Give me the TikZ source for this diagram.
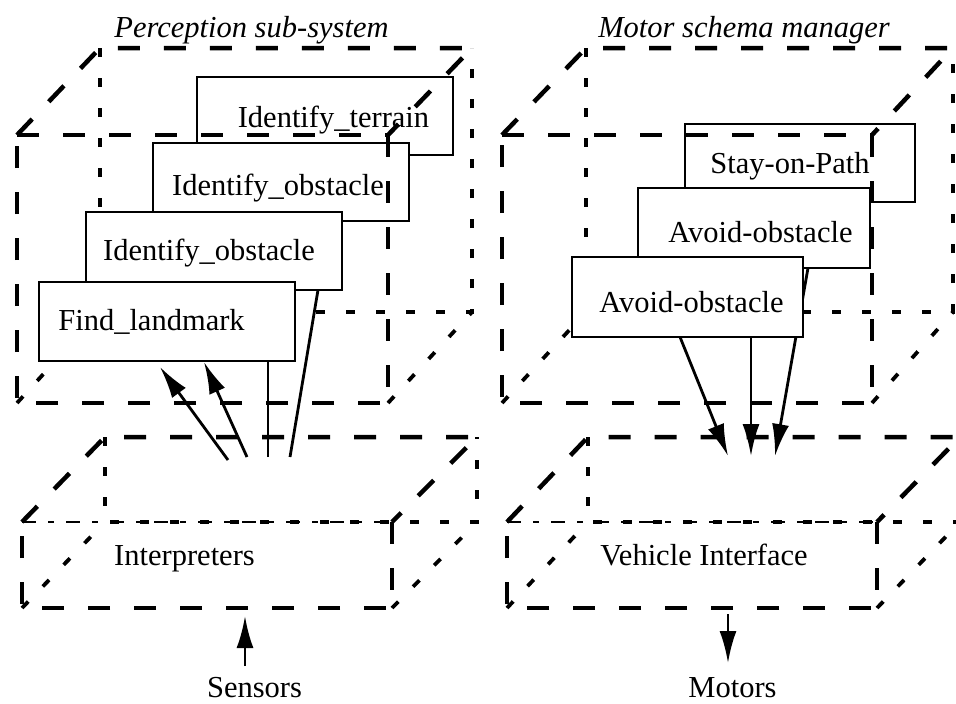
\documentclass[tikz,border=0pt]{standalone}
\usepackage{fontspec}
\setmainfont{Liberation Serif}
\usetikzlibrary{arrows.meta}

% eight corners of a wire-frame box: front (x1,y1,x2,y2), back (x1,y1,x2,y2)
\newcommand{\cornerset}[9]{%
  \coordinate (#1fa) at (#2,#3);
  \coordinate (#1fb) at (#4,#3);
  \coordinate (#1fc) at (#4,#5);
  \coordinate (#1fd) at (#2,#5);
  \coordinate (#1ba) at (#6,#7);
  \coordinate (#1bb) at (#8,#7);
  \coordinate (#1bc) at (#8,#9);
  \coordinate (#1bd) at (#6,#9);
}
% edges that lie behind the box
\newcommand{\backedges}[1]{%
  \draw[hid] (#1ba) -- (#1bd) -- (#1bc) -- (#1bb);
  \draw[hid] (#1fd) -- (#1bd);
  \draw[hid] (#1fc) -- (#1bc);
}
% top face and front face
\newcommand{\frontedges}[1]{%
  \draw[vis] (#1fa) -- (#1ba) -- (#1bb) -- (#1fb);
  \draw[vis] (#1fb) -- (#1fc) -- (#1fd) -- (#1fa);
}
\newcommand{\fronttop}[1]{\draw[vis] (#1fa) -- (#1fb);}
\newcommand{\seamtop}[1]{\draw[seam] (#1fa) -- (#1fb);}

\begin{document}
\begin{tikzpicture}[x=1pt,y=-1pt,
  vis/.style={line width=4.5pt, dash pattern=on 22pt off 24pt},
  hid/.style={line width=3.8pt, dash pattern=on 9pt off 21pt},
  seam/.style={line width=2.8pt, dash pattern=on 14pt off 12pt on 6pt off 12pt},
  schema/.style={draw, line width=1.6pt, fill=white, inner sep=0pt},
  lbl/.style={font=\fontsize{30.5}{33}\selectfont, inner sep=0pt, anchor=base},
  ttl/.style={font=\fontsize{30.5}{33}\selectfont\itshape, inner sep=0pt, anchor=base},
  link/.style={line width=2.8pt},
  arr/.style={line width=2.8pt, -{Latex[length=32pt,width=17pt]}},
]
\clip (0,0) rectangle (956,704);

% frames
\cornerset{P}{17}{135}{388}{403}{100}{48}{472}{312}
\cornerset{M}{502}{135}{872}{403}{586}{48}{953}{312}
\cornerset{I}{22}{522}{392}{608}{105}{437}{477}{522}
\cornerset{V}{507}{522}{877}{608}{588}{437}{960}{522}

\backedges{P}
\backedges{M}
\backedges{I}
\backedges{V}

% ---------------- perception sub-system ----------------
\node[schema, minimum width=256pt, minimum height=78pt] (it) at (325,116) {};
\node[lbl] (itx) at (333.5,127) {Identify\_terrain};

\node[schema, minimum width=256pt, minimum height=78pt] (io2) at (281,182) {};
\node[lbl] (io2x) at (278,195) {Identify\_obstacle};

\coordinate (t3) at (268,457);
\draw[link] (t3) -- (t3 |- io2.south);

\node[schema, minimum width=256pt, minimum height=78pt] (io3) at (214,251) {};
\node[lbl] (io3x) at (209,260) {Identify\_obstacle};

\coordinate (t4) at (290,457);
\coordinate (h4) at (318,290);
\draw[link] (t4) -- (h4);

\node[schema, minimum width=256pt, minimum height=79pt] (fl) at (167,321.5) {};
\node[lbl] (flx) at (151.5,330) {Find\_landmark};

\coordinate (t1) at (228,460);
\coordinate (h1) at (160,367);
\coordinate (t2) at (247,457);
\coordinate (h2) at (204,362);
\draw[arr] (t1) -- (h1);
\draw[arr] (t2) -- (h2);

% ---------------- motor schema manager ----------------
\node[schema, minimum width=230pt, minimum height=78pt] (sp) at (800,163) {};
\node[lbl] (spx) at (790,173) {Stay-on-Path};

\node[schema, minimum width=232pt, minimum height=80pt] (ao2) at (754,228) {};
\node[lbl] (ao2x) at (760.5,242) {Avoid-obstacle};

\coordinate (s3) at (808,268);
\coordinate (e3) at (775,456);
\draw[arr] (s3) -- (e3);

\node[schema, minimum width=231pt, minimum height=80pt] (ao1) at (687.5,297) {};
\node[lbl] (ao1x) at (691.5,312) {Avoid-obstacle};

\coordinate (s1) at (680,337);
\coordinate (e1) at (728,456);
\coordinate (s2) at (751,337);
\coordinate (e2) at (751,456);
\draw[arr] (s1) -- (e1);
\draw[arr] (s2) -- (e2);

% visible frame edges
\frontedges{P}
\fronttop{P}
\frontedges{M}
\fronttop{M}
\frontedges{I}
\seamtop{I}
\frontedges{V}
\seamtop{V}

% titles and box names
\node[ttl] (pt) at (251.5,37) {Perception sub-system};
\node[ttl] (mt) at (744,37) {Motor schema manager};
\node[lbl] (ip) at (184.5,565) {Interpreters};
\node[lbl] (vi) at (704,565) {Vehicle Interface};

% external signals
\node[lbl] (sen) at (254.5,697) {Sensors};
\node[lbl] (mot) at (732.5,697) {Motors};
\coordinate (sa) at (245,666);
\coordinate (sb) at (245,616);
\draw[arr] (sa) -- (sb);
\coordinate (ma) at (728,614);
\coordinate (mb) at (728,663);
\draw[arr] (ma) -- (mb);
\end{tikzpicture}
\end{document}
